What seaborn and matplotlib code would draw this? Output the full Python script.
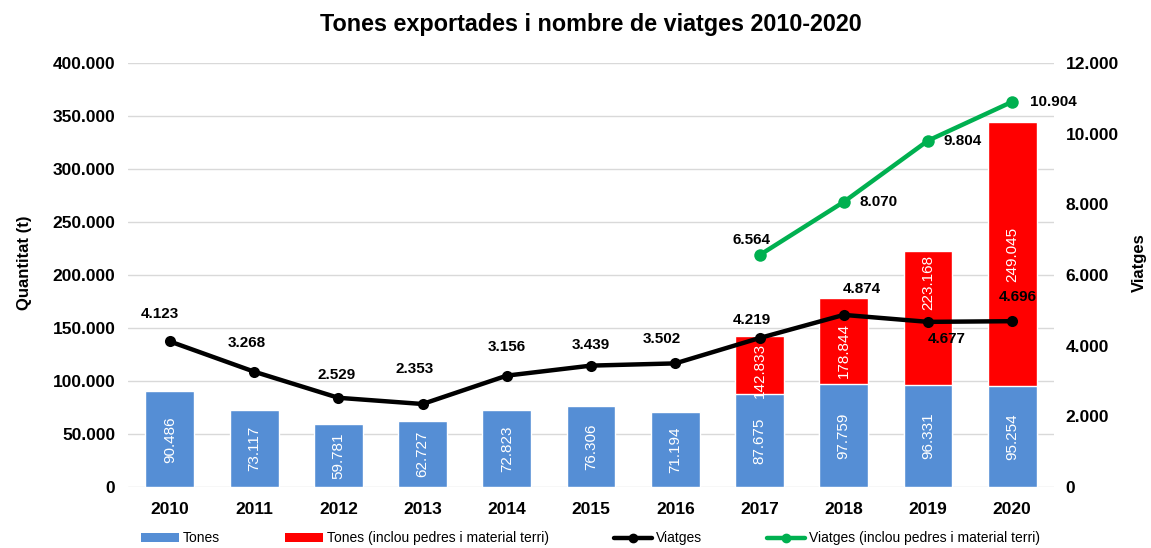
import numpy as np
import pandas as pd
import matplotlib
matplotlib.use("Agg")
import matplotlib.pyplot as plt
import seaborn as sns
from matplotlib.patches import Patch
from matplotlib.lines import Line2D
from matplotlib.ticker import FuncFormatter, MultipleLocator

years = [2010, 2011, 2012, 2013, 2014, 2015, 2016, 2017, 2018, 2019, 2020]
tones = [90486, 73117, 59781, 62727, 72823, 76306, 71194, 87675, 97759, 96331, 95254]
red_years = [2017, 2018, 2019, 2020]
red_heights = [142833, 178844, 223168, 344299]
red_labels = ["142.833", "178.844", "223.168", "249.045"]
viatges = [4123, 3268, 2529, 2353, 3156, 3439, 3502, 4219, 4874, 4677, 4696]
viatges_total = [6564, 8070, 9804, 10904]

BLUE = "#558ED5"
RED = "#FF0000"
GREEN = "#00B050"

sns.set_theme(style="white")
plt.rcParams["font.family"] = ["Liberation Sans", "DejaVu Sans"]
for k in ["text.color", "axes.labelcolor", "xtick.color", "ytick.color"]:
    plt.rcParams[k] = "black"

fig = plt.figure(figsize=(11.51, 5.48), dpi=100)
ax = fig.add_axes([0.111, 0.111, 0.805, 0.774])

def fmt(v):
    return f"{int(round(v)):,}".replace(",", ".")

# bars
sns.barplot(x=red_years, y=red_heights, native_scale=True, color=RED,
            saturation=1, width=0.58, ax=ax, zorder=2)
sns.barplot(x=years, y=tones, native_scale=True, color=BLUE,
            saturation=1, width=0.58, ax=ax, zorder=3)

ax.set_ylim(0, 400000)
ax.set_xlim(2009.5, 2020.5)
ax.yaxis.set_major_locator(MultipleLocator(50000))
ax.yaxis.set_major_formatter(FuncFormatter(lambda v, p: fmt(v)))
ax.set_xticks(years)
ax.set_xticklabels([str(y) for y in years])
ax.grid(axis="y", color="#D9D9D9", linewidth=1, zorder=0)
ax.set_axisbelow(True)
for s in ax.spines.values():
    s.set_visible(False)
ax.tick_params(axis="both", length=0, labelsize=12.5)
ax.tick_params(axis="x", pad=11)
ax.tick_params(axis="y", pad=9)
for lbl in ax.get_xticklabels() + ax.get_yticklabels():
    lbl.set_fontweight("bold")
ax.set_xlabel("")
ax.set_ylabel("Quantitat (t)", fontsize=12, fontweight="bold")
ax.yaxis.set_label_coords(-0.103, 0.53)

# bar labels
for x, v in zip(years, tones):
    ax.text(x, v / 2, fmt(v), rotation=90, ha="center", va="center",
            color="white", fontsize=11, zorder=5)
tone_map = dict(zip(years, tones))
red_label_shift = [-5, -10, 35, 0]
for x, h, lab, dy in zip(red_years, red_heights, red_labels, red_label_shift):
    ax.annotate(lab, (x, (h + tone_map[x]) / 2), xytext=(0, dy),
                textcoords="offset pixels", rotation=90, ha="center",
                va="center", color="white", fontsize=11, zorder=5)

# lines on secondary axis
ax2 = ax.twinx()
sns.lineplot(x=years, y=viatges, color="black", linewidth=3.2, marker="o",
             markersize=8, markeredgewidth=0, ax=ax2, zorder=4)
sns.lineplot(x=red_years, y=viatges_total, color=GREEN, linewidth=3.2,
             marker="o", markersize=9, markeredgewidth=0, ax=ax2, zorder=4)
ax2.set_ylim(0, 12000)
ax2.set_xlim(2009.5, 2020.5)
ax2.yaxis.set_major_locator(MultipleLocator(2000))
ax2.yaxis.set_major_formatter(FuncFormatter(lambda v, p: fmt(v)))
ax2.grid(False)
for s in ax2.spines.values():
    s.set_visible(False)
ax2.tick_params(axis="y", length=0, labelsize=12.5, pad=8)
for lbl in ax2.get_yticklabels():
    lbl.set_fontweight("bold")
ax2.set_ylabel("Viatges", fontsize=12, fontweight="bold")
ax2.yaxis.set_label_coords(1.084, 0.53)

black_off = [(-10, 27), (-7, 29), (-2, 23), (-8, 35), (0, 29), (0, 21),
             (-13, 24), (-8, 18), (18, 26), (19, -17), (6, 24)]
for x, v, (dx, dy) in zip(years, viatges, black_off):
    ax2.annotate(fmt(v), (x, v), xytext=(dx, dy), textcoords="offset pixels",
                 ha="center", va="center", fontsize=11, fontweight="bold",
                 color="black")
green_off = [(-8, 15), (35, 0), (35, 0), (41, 0)]
for x, v, (dx, dy) in zip(red_years, viatges_total, green_off):
    ax2.annotate(fmt(v), (x, v), xytext=(dx, dy), textcoords="offset pixels",
                 ha="center", va="center", fontsize=11, fontweight="bold",
                 color="black")

fig.suptitle("Tones exportades i nombre de viatges 2010-2020", x=0.513,
             y=0.977, fontsize=16.8, fontweight="bold", color="black")

handles = [
    Patch(facecolor=BLUE, edgecolor="none"),
    Patch(facecolor=RED, edgecolor="none"),
    Line2D([], [], color="black", linewidth=3.2, marker="o", markersize=6),
    Line2D([], [], color=GREEN, linewidth=3.2, marker="o", markersize=6),
]
labels = ["Tones", "Tones (inclou pedres i material terri)", "Viatges",
          "Viatges (inclou pedres i material terri)"]
fig.legend(handles, labels, loc="lower left", bbox_to_anchor=(0.112, -0.018),
           ncol=4, frameon=False, fontsize=10, handlelength=2.7,
           handleheight=0.55, handletextpad=0.3, columnspacing=4.7)

fig.savefig("out.png", dpi=100)
